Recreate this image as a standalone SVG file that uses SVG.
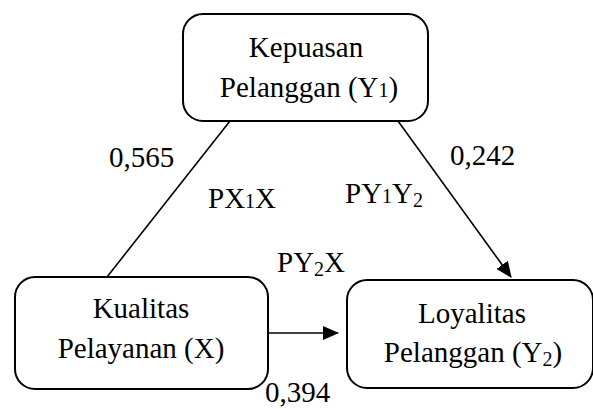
<svg xmlns="http://www.w3.org/2000/svg" width="593" height="409" viewBox="0 0 593 409">
<defs>
<marker id="ah" markerWidth="16" markerHeight="14" refX="15" refY="7" orient="auto" markerUnits="userSpaceOnUse">
<path d="M0,0 L16,7 L0,14 Z" fill="#000"/>
</marker>
<style>
.box{fill:#fff;stroke:#000;stroke-width:2}
.t{font-family:"Liberation Serif","Times New Roman",serif;font-size:29px;fill:#000}
.c{text-anchor:middle}
.ln{stroke:#000;stroke-width:1.6;fill:none}
</style>
</defs>
<g id="connectors">
<line class="ln" x1="230" y1="121" x2="107" y2="277"/>
<line class="ln" x1="398" y1="121" x2="511" y2="277" marker-end="url(#ah)"/>
<line class="ln" x1="268" y1="333" x2="338" y2="333" marker-end="url(#ah)"/>
</g>
<g id="kepuasan">
<rect class="box" x="183" y="14" width="245" height="107" rx="20"/>
<text class="t c" x="306" y="57">Kepuasan</text>
<text class="t c" x="309" y="97">Pelanggan (Y<tspan font-size="20">1</tspan>)</text>
</g>
<g id="kualitas">
<rect class="box" x="15" y="277" width="253" height="112" rx="20"/>
<text class="t c" x="141" y="318">Kualitas</text>
<text class="t c" x="141" y="358">Pelayanan (X)</text>
</g>
<g id="loyalitas">
<rect class="box" x="347" y="280" width="246" height="108" rx="20"/>
<text class="t c" x="472" y="323">Loyalitas</text>
<text class="t c" x="473" y="362">Pelanggan (Y<tspan font-size="20" dy="4">2</tspan><tspan dy="-4">)</tspan></text>
</g>
<g id="labels">
<text class="t" x="109" y="167">0,565</text>
<text class="t" x="450" y="165">0,242</text>
<text class="t" x="208" y="208">PX<tspan font-size="20">1</tspan>X</text>
<text class="t" x="345" y="203">PY<tspan font-size="20">1</tspan>Y<tspan font-size="20" dy="4">2</tspan></text>
<text class="t" x="277" y="272">PY<tspan font-size="20" dy="4">2</tspan><tspan dy="-4">X</tspan></text>
<text class="t" x="265" y="402">0,394</text>
</g>
</svg>
